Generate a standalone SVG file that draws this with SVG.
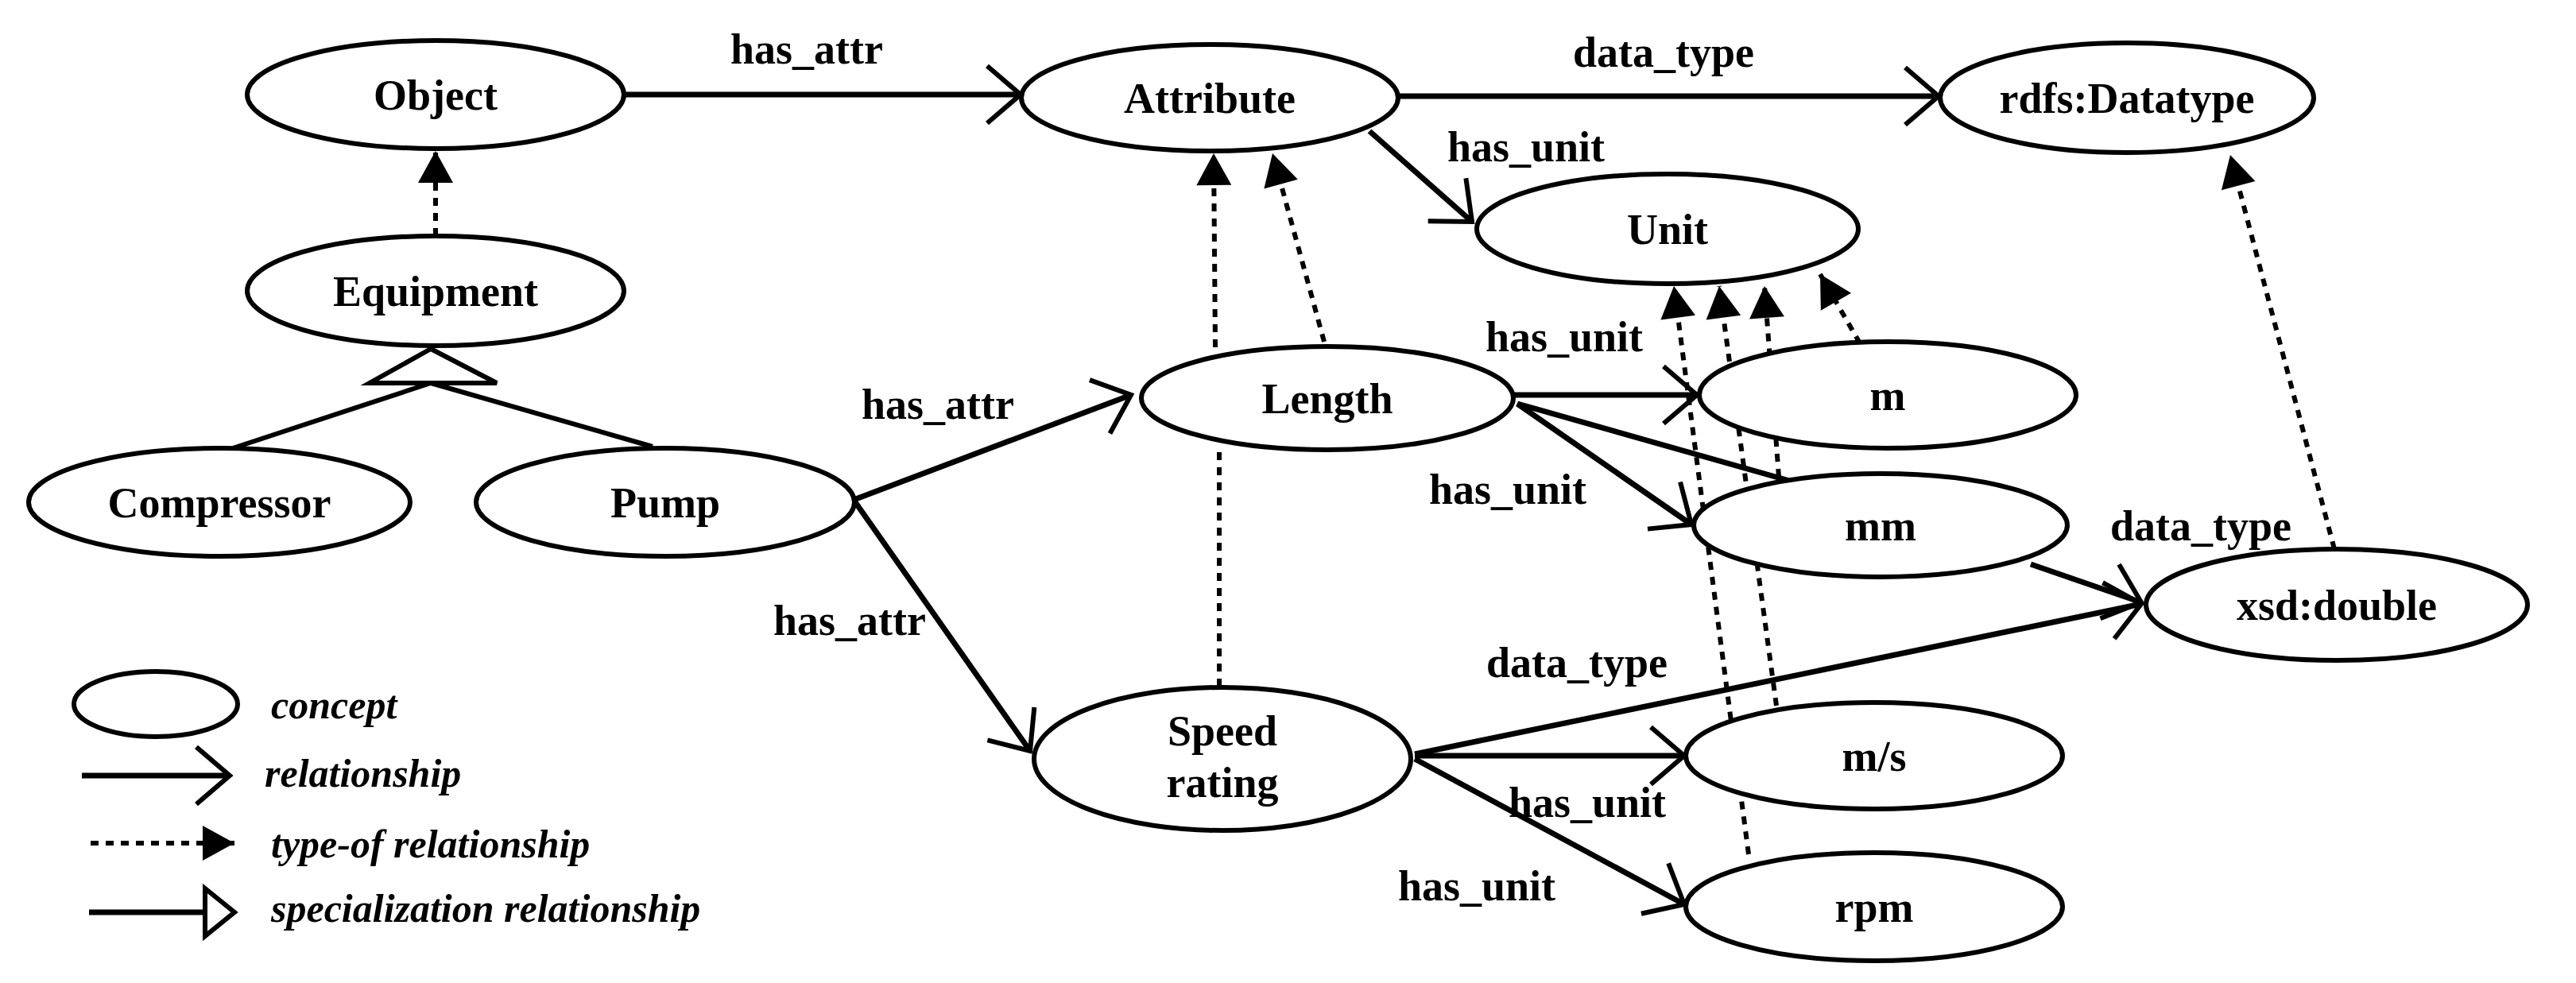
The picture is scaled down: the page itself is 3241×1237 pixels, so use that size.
<svg xmlns="http://www.w3.org/2000/svg" width="3241" height="1237" viewBox="0 0 3241 1237">
<style>
.n ellipse{fill:#fff;stroke:#000;stroke-width:6}
text{font-family:"Liberation Serif",serif;font-weight:bold;font-size:54px;text-anchor:middle;fill:#000}
.lg{font-style:italic;text-anchor:start;font-size:50px}
.r{stroke:#000;stroke-width:7;fill:none;marker-end:url(#open)}
.s{stroke:#000;stroke-width:6;fill:none}
.d{stroke:#000;stroke-width:6;fill:none;stroke-dasharray:10 9;marker-end:url(#fill)}
.d0{stroke:#000;stroke-width:6;fill:none;stroke-dasharray:10 9}
</style>
<defs>
<marker id="open" markerUnits="userSpaceOnUse" markerWidth="60" markerHeight="90" refX="48" refY="40" orient="auto" viewBox="0 0 60 90">
<path d="M6,4 L48,40 L6,76" fill="none" stroke="#000" stroke-width="6"/>
</marker>
<marker id="fill" markerUnits="userSpaceOnUse" markerWidth="50" markerHeight="50" refX="44" refY="25" orient="auto" viewBox="0 0 50 50">
<path d="M4,3 L44,25 L4,47 Z" fill="#000"/>
</marker>
</defs>
<g id="connectors">
<line class="r" x1="785" y1="119" x2="1284" y2="119"/>
<line class="r" x1="1759" y1="121" x2="2439" y2="121"/>
<line class="r" x1="1723" y1="165" x2="1852" y2="279"/>
<line class="d" x1="548" y1="297" x2="548" y2="190"/>
<line class="s" x1="293" y1="564" x2="542" y2="482"/>
<line class="s" x1="821" y1="562" x2="542" y2="482"/>
<polygon points="542,439 465,482 625,482" fill="#fff" stroke="#000" stroke-width="6"/>
<line class="r" x1="1074" y1="629" x2="1423" y2="497"/>
<line class="r" x1="1074" y1="629" x2="1296" y2="945"/>
<line class="d" x1="1529" y1="437" x2="1527" y2="193"/>
<line class="d" x1="1666" y1="430" x2="1601" y2="193"/>
<line class="d0" x1="1534" y1="864" x2="1534" y2="566"/>
<line class="r" x1="1904" y1="497" x2="2135" y2="497"/>
<line class="r" x1="1909" y1="508" x2="2128" y2="660"/>
<line class="s" x1="1909" y1="508" x2="2262" y2="608" style="stroke-width:7"/>
<line class="r" x1="2555" y1="710" x2="2694" y2="758"/>
<line class="r" x1="1780" y1="949" x2="2694" y2="760"/>
<line class="r" x1="1780" y1="951" x2="2119" y2="951"/>
<line class="r" x1="1780" y1="955" x2="2119" y2="1138"/>
<line class="d" x1="2937" y1="691" x2="2806" y2="195"/>
<line class="d" x1="2200" y1="1075" x2="2106" y2="360"/>
<line class="d" x1="2235" y1="888" x2="2163" y2="360"/>
<line class="d" x1="2238" y1="600" x2="2220" y2="360"/>
<line class="d" x1="2340" y1="432" x2="2290" y2="345"/>
</g>
<g id="edge-labels">
<text x="1015" y="80">has_attr</text>
<text x="2093" y="84">data_type</text>
<text x="1920" y="203">has_unit</text>
<text x="1180" y="527">has_attr</text>
<text x="1069" y="799">has_attr</text>
<text x="1968" y="442">has_unit</text>
<text x="1897" y="634">has_unit</text>
<text x="2769" y="680">data_type</text>
<text x="1984" y="852">data_type</text>
<text x="1997" y="1028">has_unit</text>
<text x="1858" y="1133">has_unit</text>
</g>
<g id="Object" class="n"><ellipse cx="548" cy="119" rx="237" ry="68"/><text x="548" y="138">Object</text></g>
<g id="Attribute" class="n"><ellipse cx="1522" cy="123" rx="237" ry="67"/><text x="1522" y="142">Attribute</text></g>
<g id="rdfsDatatype" class="n"><ellipse cx="2676" cy="123" rx="235" ry="69"/><text x="2676" y="142">rdfs:Datatype</text></g>
<g id="Unit" class="n"><ellipse cx="2098" cy="288" rx="240" ry="69"/><text x="2098" y="307">Unit</text></g>
<g id="Equipment" class="n"><ellipse cx="548" cy="366" rx="237" ry="69"/><text x="548" y="385">Equipment</text></g>
<g id="Length" class="n"><ellipse cx="1670" cy="501" rx="234" ry="65"/><text x="1670" y="520">Length</text></g>
<g id="m" class="n"><ellipse cx="2375" cy="497" rx="237" ry="67"/><text x="2375" y="516">m</text></g>
<g id="Compressor" class="n"><ellipse cx="276" cy="632" rx="240" ry="68"/><text x="276" y="651">Compressor</text></g>
<g id="Pump" class="n"><ellipse cx="837" cy="632" rx="238" ry="68"/><text x="837" y="651">Pump</text></g>
<g id="mm" class="n"><ellipse cx="2366" cy="661" rx="235" ry="65"/><text x="2366" y="680">mm</text></g>
<g id="xsdDouble" class="n"><ellipse cx="2940" cy="761" rx="240" ry="70"/><text x="2940" y="780">xsd:double</text></g>
<g id="SpeedRating" class="n"><ellipse cx="1538" cy="955" rx="237" ry="90"/><text x="1538" y="938">Speed</text><text x="1538" y="1003">rating</text></g>
<g id="ms" class="n"><ellipse cx="2358" cy="951" rx="237" ry="67"/><text x="2358" y="970">m/s</text></g>
<g id="rpm" class="n"><ellipse cx="2358" cy="1141" rx="237" ry="68"/><text x="2358" y="1160">rpm</text></g>
<g id="legend">
<ellipse cx="196" cy="886" rx="103" ry="41" fill="#fff" stroke="#000" stroke-width="6"/>
<text class="lg" x="341" y="904">concept</text>
<line class="r" x1="103" y1="976" x2="289" y2="976"/>
<text class="lg" x="333" y="990">relationship</text>
<line class="d" x1="114" y1="1061" x2="295" y2="1061"/>
<text class="lg" x="341" y="1079">type-of relationship</text>
<line class="s" x1="112" y1="1148" x2="255" y2="1148" style="stroke-width:7"/>
<polygon points="258,1118 295,1148 258,1178" fill="#fff" stroke="#000" stroke-width="6"/>
<text class="lg" x="341" y="1160">specialization relationship</text>
</g>
</svg>
